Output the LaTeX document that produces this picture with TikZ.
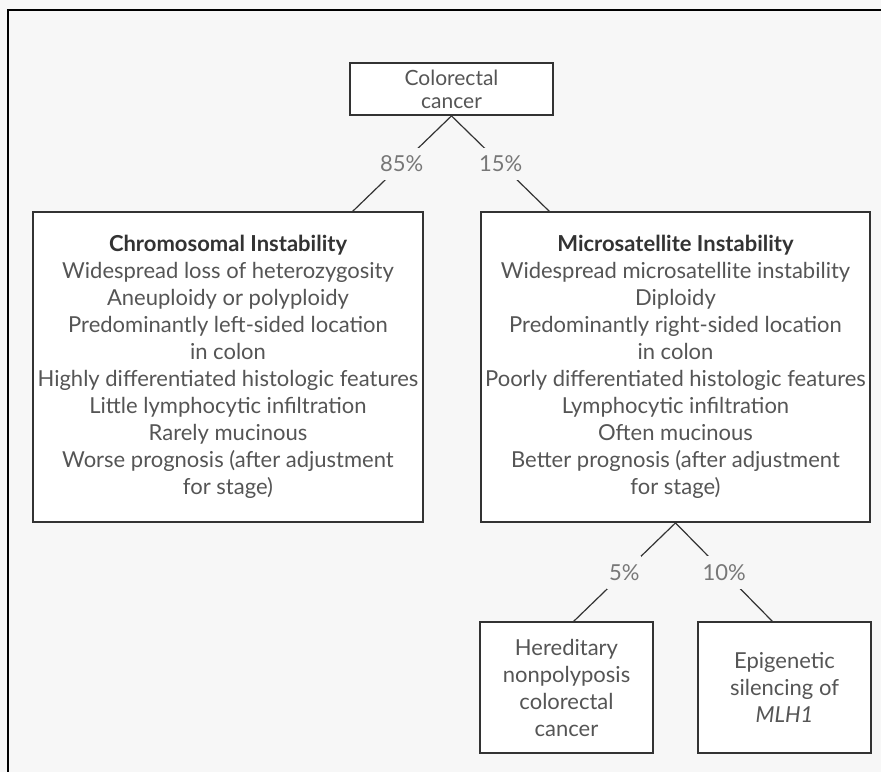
\documentclass[tikz,border=0pt]{standalone}
\usepackage{fontspec}
\setmainfont{Lato}
\definecolor{bg}{HTML}{F7F7F7}
\definecolor{ink}{HTML}{333333}
\definecolor{txt}{HTML}{555555}
\definecolor{pcol}{HTML}{777777}

\begin{document}
\begin{tikzpicture}[x=1pt,y=-1pt,
  box/.style={draw=ink,line width=1.8pt,fill=white,align=center,text=txt,
    inner sep=0pt,font=\fontsize{22}{27}\selectfont},
  pct/.style={fill=bg,text=pcol,inner xsep=2pt,inner ysep=8pt,
    font=\fontsize{22}{24}\selectfont},
  link/.style={draw=ink,line width=1.2pt}]
  \useasboundingbox (0,0) rectangle (881,772);
  \fill[bg] (0,0) rectangle (881,772);
  \draw[line width=2pt] (881,10) -| (8,772);

  % top of the tree
  \node[box,minimum width=203pt,minimum height=52pt,
    font=\fontsize{21}{23}\selectfont] (crc) at (451.5,89) {Colorectal\\cancer};

  % the two pathways
  \node[box,minimum width=390pt,minimum height=310pt] (cin) at (228,367)
    {{\bfseries\color{ink}Chromosomal Instability}\\
     Widespread loss of heterozygosity\\
     Aneuploidy or polyploidy\\
     Predominantly left-sided location\\
     in colon\\
     Highly differentiated histologic features\\
     Little lymphocytic infiltration\\
     Rarely mucinous\\
     Worse prognosis (after adjustment\\
     for stage)};
  \node[box,minimum width=389pt,minimum height=310pt] (msi) at (675.5,367)
    {{\bfseries\color{ink}Microsatellite Instability}\\
     Widespread microsatellite instability\\
     Diploidy\\
     Predominantly right-sided location\\
     in colon\\
     Poorly differentiated histologic features\\
     Lymphocytic infiltration\\
     Often mucinous\\
     Better prognosis (after adjustment\\
     for stage)};

  % MSI subgroups
  \node[box,minimum width=173pt,minimum height=131pt] (hnpcc) at (566.5,687.5)
    {Hereditary\\nonpolyposis\\colorectal\\cancer};
  \node[box,minimum width=173pt,minimum height=131pt] (epi) at (784.5,687.5)
    {Epigenetic\\silencing of\\\textit{MLH1}};

  \coordinate (cin-in) at (352,212);
  \coordinate (msi-in) at (550,212);
  \coordinate (hnpcc-in) at (573,622);
  \coordinate (epi-in) at (773,622);

  \foreach \s/\e/\p in {crc.south/cin-in/85,crc.south/msi-in/15,
                        msi.south/hnpcc-in/5,msi.south/epi-in/10}
    \draw[link] (\s) -- node[pct] {\p\%} (\e);
\end{tikzpicture}
\end{document}
